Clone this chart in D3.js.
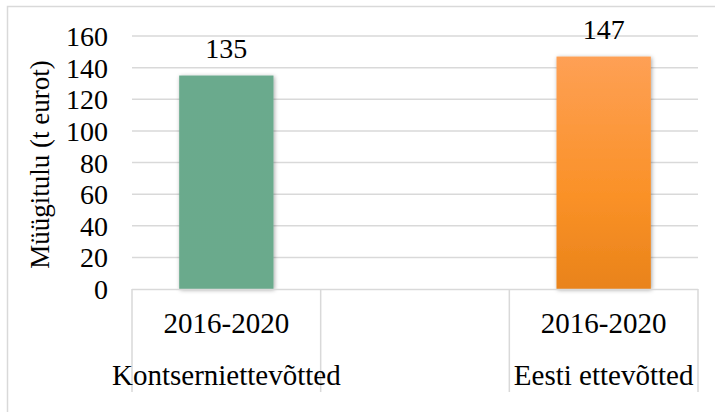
<!DOCTYPE html>
<html><head><meta charset="utf-8">
<script src="https://cdn.jsdelivr.net/npm/d3@7"></script>
<style>html,body{margin:0;padding:0;background:#fff;}svg{display:block;} text{font-family:"Liberation Serif","Times New Roman",serif;}</style>
</head><body>
<svg id="chart" width="715" height="412"></svg>
<script>
const groups = ["Kontserniettevõtted", "", "Eesti ettevõtted"];
const periods = ["2016-2020", "", "2016-2020"];
const values = [135, null, 147];
const yTicks = [0, 20, 40, 60, 80, 100, 120, 140, 160];
const yTitle = "Müügitulu (t eurot)";

(function(){
const svg = d3.select("#chart");
const pL = 132, pR = 698, pT = 36, pB = 289;
const grid = "#d9d9d9";

const defs = svg.append("defs");
const f = defs.append("filter").attr("id","sh").attr("x","-20%").attr("y","-20%").attr("width","140%").attr("height","140%");
f.append("feDropShadow").attr("dx",1).attr("dy",1).attr("stdDeviation",2).attr("flood-color","#000").attr("flood-opacity",0.35);
const gGreen = defs.append("linearGradient").attr("id","gG").attr("x1",0).attr("y1",0).attr("x2",0).attr("y2",1);
gGreen.append("stop").attr("offset","0%").attr("stop-color","#6aaa8d");
gGreen.append("stop").attr("offset","100%").attr("stop-color","#6aaa8c");
const gOr = defs.append("linearGradient").attr("id","gO").attr("x1",0).attr("y1",0).attr("x2",0).attr("y2",1);
gOr.append("stop").attr("offset","0%").attr("stop-color","#fea055");
gOr.append("stop").attr("offset","60%").attr("stop-color","#fa9127");
gOr.append("stop").attr("offset","100%").attr("stop-color","#e9831a");
const fills = ["url(#gG)", null, "url(#gO)"];

// outer border
svg.append("rect").attr("x",7.5).attr("y",6.5).attr("width",720).attr("height",420)
  .attr("fill","none").attr("stroke",grid).attr("stroke-width",1.5);

const x = d3.scaleBand().domain(d3.range(groups.length)).range([pL, pR]).paddingInner(0.5).paddingOuter(0.25);
const y = d3.scaleLinear().domain([0, 160]).range([pB, pT]);

// gridlines
svg.append("g").selectAll("line").data(yTicks.filter(d=>d>0)).join("line")
  .attr("x1", pL).attr("x2", pR).attr("y1", d=>y(d)).attr("y2", d=>y(d))
  .attr("stroke", grid).attr("stroke-width", 1.5);

// y axis labels
const yAxis = d3.axisLeft(y).tickValues(yTicks).tickSize(0).tickPadding(0);
const ya = svg.append("g").attr("transform", `translate(${pL-24},0)`).call(yAxis);
ya.select(".domain").remove();
ya.attr("font-family", null);
ya.selectAll("text").style("font-family", '"Liberation Serif","Times New Roman",serif').attr("font-size", 28).attr("fill", "#000").attr("dy","0.34em");

// y title
svg.append("text").attr("transform", `translate(49,${(pT+pB)/2 + 2}) rotate(-90)`)
  .attr("text-anchor","middle").attr("font-size", 27).attr("fill","#000").text(yTitle);

// bars
const idx = d3.range(groups.length).filter(i => values[i] != null);
svg.append("g").selectAll("rect").data(idx).join("rect")
  .attr("x", i => x(i)).attr("width", x.bandwidth())
  .attr("y", i => y(values[i])).attr("height", i => y(0) - y(values[i]))
  .attr("fill", i => fills[i]).attr("filter","url(#sh)");

// data labels
svg.append("g").selectAll("text").data(idx).join("text")
  .attr("x", i => x(i) + x.bandwidth()/2).attr("y", i => y(values[i]) - 18)
  .attr("text-anchor","middle").attr("font-size", 28).attr("fill","#000")
  .text(i => values[i]);

// category axis line
svg.append("line").attr("x1", pL).attr("x2", pR).attr("y1", pB+0.5).attr("y2", pB+0.5)
  .attr("stroke", grid).attr("stroke-width", 1.5);
// dividers
const bounds = d3.range(groups.length + 1).map(i => pL + i * (pR-pL)/groups.length);
svg.append("g").selectAll("line").data(bounds).join("line")
  .attr("x1", d=>d).attr("x2", d=>d).attr("y1", pB).attr("y2", 392)
  .attr("stroke", grid).attr("stroke-width", 1.5);

// category labels
svg.append("g").selectAll("text").data(d3.range(groups.length)).join("text")
  .attr("x", i => x(i) + x.bandwidth()/2).attr("y", 333)
  .attr("text-anchor","middle").attr("font-size", 29).attr("fill","#000")
  .text(i => periods[i]);
svg.append("g").selectAll("text").data(d3.range(groups.length)).join("text")
  .attr("x", i => x(i) + x.bandwidth()/2).attr("y", 385)
  .attr("text-anchor","middle").attr("font-size", 29).attr("fill","#000")
  .text(i => groups[i]);
})();
</script>
</body></html>
